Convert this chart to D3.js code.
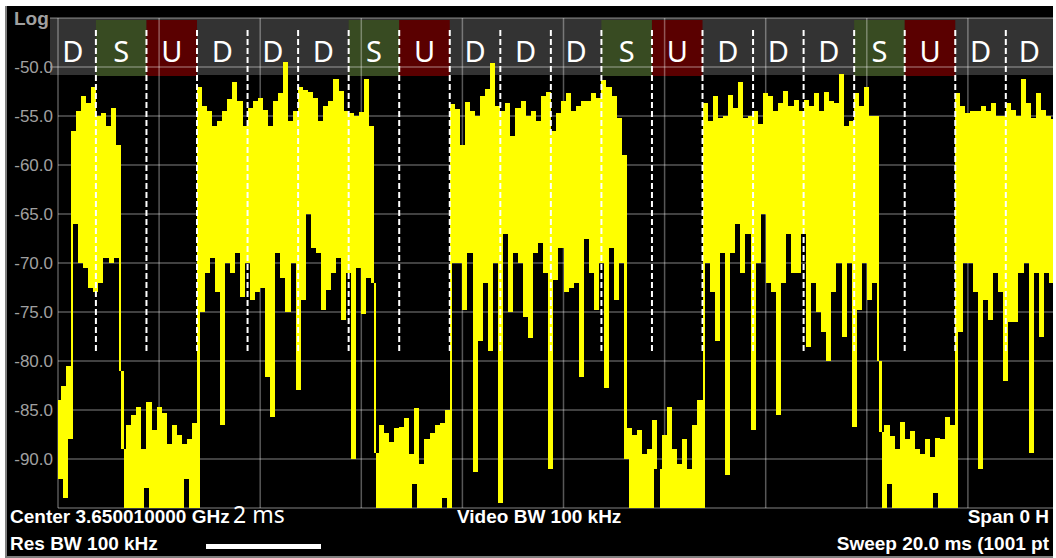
<!DOCTYPE html>
<html>
<head>
<meta charset="utf-8">
<script src="https://cdn.jsdelivr.net/npm/d3@7"></script>
<style>
    html, body { margin: 0; padding: 0; background: #fff; }
    svg { display: block; }
</style>
</head>
<body>
<svg id="chart" width="1056" height="558"></svg>
<script>
'use strict';

// sweep: 20 ms, trace given as peak / pit pairs for every 0.1 ms bin
const sweepMs = 20;
const binMs = 0.1;
const yTicks = [-50, -55, -60, -65, -70, -75, -80, -85, -90];
const xGridMs = [0, 2, 4, 6, 8, 10, 12, 14, 16, 18, 20];

// TDD frame, 1 ms slots, first slot starts before the sweep
const slotStartMs = -0.25;
const slotTypes = ['D', 'S', 'U', 'D', 'D', 'D', 'S', 'U', 'D', 'D',
                   'D', 'S', 'U', 'D', 'D', 'D', 'S', 'U', 'D', 'D'];

const peakDbm = [
    -84, -82.5, -80.5, -56.5, -54.5, -53, -53.7, -52, -55, -54.7,
    -56, -54.2, -58, -89, -86.5, -85.5, -84.7, -89, -84.2, -87,
    -84.7, -85.3, -88.5, -86.5, -87.5, -88.5, -88, -86.3, -52, -54,
    -54.5, -56, -55.5, -54.5, -53.3, -51.5, -53.5, -56, -54.2, -53.5,
    -53.2, -54.4, -56, -53.5, -52.7, -49.5, -55.5, -54.5, -52, -52.3,
    -52.6, -53.2, -55.5, -54, -53.5, -51.2, -52.4, -54.5, -54.7, -55,
    -54.6, -51.2, -56, -89.4, -86.5, -87.3, -88.3, -86.8, -86.7, -85.8,
    -89.5, -84.8, -90.5, -88, -87.3, -86.5, -86.3, -85, -53.8, -54.3,
    -58, -53.6, -54.5, -55, -53, -52.2, -49.6, -54, -54.5, -53.7,
    -57, -54.2, -53.5, -55, -54.5, -55.5, -53, -52.5, -56.5, -54.7,
    -53.5, -52.7, -54.5, -54, -53.5, -53.5, -52.7, -53.2, -51.3, -52,
    -53, -55.2, -59, -86.8, -87.5, -87, -89.5, -89, -86, -91,
    -87.5, -84.7, -89, -90.5, -88, -91, -86.5, -84, -53.7, -55.5,
    -53, -55.2, -55, -52.9, -54.2, -51.5, -55.2, -55, -54.5, -55.8,
    -52.7, -53, -54.5, -53.7, -52.4, -54, -53.4, -54.5, -53.4, -54,
    -52.7, -54.5, -52.5, -53.5, -53.7, -50.7, -56, -55.5, -52.7, -54,
    -52, -55, -55, -87.2, -86.5, -87.7, -89, -86.2, -88, -87.1,
    -89, -89.5, -88, -89.8, -87.9, -88, -85.7, -86.5, -52.7, -54,
    -54.7, -54.5, -54.5, -54, -54.5, -53.7, -55, -55, -53.7, -54.4,
    -55, -51.2, -53.7, -55.2, -52.7, -54.4, -55, -55.3, -54, -55
];

const pitDbm = [
    -92, -94, -88, -66, -70, -70.5, -72.5, -73, -72, -69.5,
    -70, -69.5, -81, -97, -97, -97, -97, -93, -97, -97,
    -97, -97, -97, -97, -97, -92, -97, -97, -75, -71,
    -69.5, -73, -86.5, -70, -71, -69, -73.5, -70, -73.8, -73,
    -72.5, -81.6, -85.7, -69, -71.5, -75, -70, -83, -73.8, -65,
    -68.5, -69, -74.8, -72.8, -71, -69.5, -75.8, -71, -90, -70.5,
    -75.2, -71.5, -72, -97, -97, -97, -97, -97, -97, -97,
    -92.5, -97, -97, -97, -97, -97, -94, -97, -70, -70,
    -74.8, -69, -91.3, -78, -72, -79, -70, -94.5, -67, -75,
    -69, -70, -75.5, -77.7, -69, -68, -71, -91, -71.7, -68.5,
    -73, -72.5, -72, -81.6, -67.5, -71, -74.8, -70, -82.8, -68.5,
    -73.8, -70, -90, -97, -97, -97, -97, -97, -91, -97,
    -97, -97, -97, -97, -97, -97, -97, -97, -70, -73,
    -78, -69, -91.6, -69, -66, -71, -67, -87, -70, -65,
    -72, -73, -85.5, -72, -67, -71, -71, -67, -78.6, -72,
    -75, -77, -80, -73, -70, -77.5, -70, -86.7, -74.8, -70,
    -73.8, -72, -80, -97, -92.5, -97, -97, -97, -97, -97,
    -97, -97, -97, -93.5, -97, -97, -97, -97, -77, -70,
    -70, -73, -91, -73.8, -75.8, -71, -73, -82, -76, -76,
    -71, -70, -89.4, -71, -77.5, -71, -72, -68, -70, -69
];

const _font = "'Liberation Sans', Arial, sans-serif";
const _slotFill = {D: '#333333', S: '#384b22', U: '#5a0000'};

const svg = d3.select('#chart');
const x = d3.scaleLinear().domain([0, sweepMs]).range([58, 1069]);
const y = d3.scaleLinear().domain([-95, -45]).range([508, 18]).clamp(true);
const rightEdge = 1053;

// screen frame
svg.append('rect').attr('x', 5).attr('y', 6).attr('width', rightEdge - 5).attr('height', 552).attr('fill', '#000');
svg.append('rect').attr('x', 5).attr('y', 6).attr('width', 2).attr('height', 552).attr('fill', '#808080');
svg.append('rect').attr('x', 5).attr('y', 556).attr('width', rightEdge - 5).attr('height', 2).attr('fill', '#808080');

svg.append('clipPath').attr('id', 'plotClip')
    .append('rect').attr('x', 58).attr('y', 18).attr('width', rightEdge - 58).attr('height', 490);
svg.append('clipPath').attr('id', 'bandClip')
    .append('rect').attr('x', 50).attr('y', 0).attr('width', rightEdge - 50).attr('height', 558);

// slot header band
const slots = slotTypes.map(function (type, i) {
    const t0 = slotStartMs + i;
    const x0 = Math.max(50, x(t0));
    const x1 = Math.min(rightEdge, x(t0 + 1));
    return {type: type, t0: t0, x0: x0, x1: x1};
});

const band = svg.append('g').attr('clip-path', 'url(#bandClip)');
band.append('rect').attr('x', 50).attr('y', 18).attr('width', rightEdge - 50).attr('height', 57).attr('fill', '#333');
band.selectAll('rect.slot')
    .data(slots.filter(function (d) { return d.type !== 'D'; }))
    .join('rect')
    .attr('class', 'slot')
    .attr('x', function (d) { return d.x0; })
    .attr('y', 20)
    .attr('width', function (d) { return d.x1 - d.x0; })
    .attr('height', 56)
    .attr('fill', function (d) { return _slotFill[d.type]; });

// grid
const grid = svg.append('g').attr('stroke', 'rgba(255,255,255,0.34)').attr('stroke-width', 1.5);
grid.selectAll('line.v')
    .data(xGridMs)
    .join('line')
    .attr('class', 'v')
    .attr('x1', function (d) { return x(d); })
    .attr('x2', function (d) { return x(d); })
    .attr('y1', 18)
    .attr('y2', 508);
grid.selectAll('line.h')
    .data([-45].concat(yTicks, [-95]))
    .join('line')
    .attr('class', 'h')
    .attr('x1', function (d) { return d === -50 || d === -45 ? 50 : 58; })
    .attr('x2', rightEdge)
    .attr('y1', function (d) { return y(d); })
    .attr('y2', function (d) { return y(d); });

// trace: each pixel column spans the two neighbouring samples
const samples = [];
peakDbm.forEach(function (p, j) {
    samples.push({t: j * binMs, v: p});
    samples.push({t: j * binMs + binMs / 2, v: pitDbm[j]});
});
const columns = samples.map(function (s, k) {
    const next = samples[Math.min(k + 1, samples.length - 1)];
    return {t: s.t, lo: Math.min(s.v, next.v), hi: Math.max(s.v, next.v)};
});
columns.push({t: sweepMs, lo: columns[columns.length - 1].lo, hi: columns[columns.length - 1].hi});

const area = d3.area()
    .curve(d3.curveStepAfter)
    .x(function (d) { return x(d.t); })
    .y0(function (d) { return y(d.lo); })
    .y1(function (d) { return y(d.hi); });

svg.append('g').attr('clip-path', 'url(#plotClip)')
    .append('path')
    .datum(columns)
    .attr('d', area)
    .attr('fill', '#ffff00')
    .attr('shape-rendering', 'crispEdges');

// slot boundaries
svg.append('g').attr('clip-path', 'url(#bandClip)')
    .selectAll('line')
    .data(slots.slice(1))
    .join('line')
    .attr('x1', function (d) { return x(d.t0); })
    .attr('x2', function (d) { return x(d.t0); })
    .attr('y1', 30)
    .attr('y2', 353)
    .attr('stroke', '#fff')
    .attr('stroke-width', 2)
    .attr('stroke-dasharray', '6,3');

svg.append('g').selectAll('text')
    .data(slots)
    .join('text')
    .attr('x', function (d) { return (d.x0 + d.x1) / 2; })
    .attr('y', 62)
    .attr('text-anchor', 'middle')
    .attr('fill', '#fff')
    .style('font-family', "'Noto Sans', sans-serif")
    .style('font-size', '29px')
    .text(function (d) { return d.type; });

// y axis labels
svg.append('g').selectAll('text')
    .data(yTicks)
    .join('text')
    .attr('x', 53)
    .attr('y', function (d) { return y(d) + 6; })
    .attr('text-anchor', 'end')
    .attr('fill', '#a0a0a0')
    .style('font-family', _font)
    .style('font-size', '17px')
    .text(function (d) { return d.toFixed(1); });

svg.append('text').attr('x', 14).attr('y', 25)
    .attr('fill', '#a0a0a0')
    .style('font-family', _font).style('font-size', '19px').style('font-weight', 'bold')
    .text('Log');

// footer annotations (the screenshot cuts the right-hand ones off)
const foot = svg.append('g')
    .attr('fill', '#fff')
    .style('font-family', _font).style('font-size', '19px').style('font-weight', 'bold');
foot.append('text').attr('x', 10).attr('y', 523).text('Center 3.650010000 GHz');
foot.append('text').attr('x', 457).attr('y', 523).text('Video BW 100 kHz');
foot.append('text').attr('x', 1049).attr('y', 523).attr('text-anchor', 'end').text('Span 0 H');
foot.append('text').attr('x', 10).attr('y', 550).text('Res BW 100 kHz');
foot.append('text').attr('x', 1049).attr('y', 550).attr('text-anchor', 'end').text('Sweep 20.0 ms (1001 pt');

svg.append('text').attr('x', 233).attr('y', 523)
    .attr('fill', '#fff')
    .style('font-family', "'Noto Sans', sans-serif").style('font-size', '23px')
    .text('2 ms');
svg.append('rect').attr('x', 206).attr('y', 544).attr('width', 115).attr('height', 5).attr('fill', '#fff');
</script>
</body>
</html>
